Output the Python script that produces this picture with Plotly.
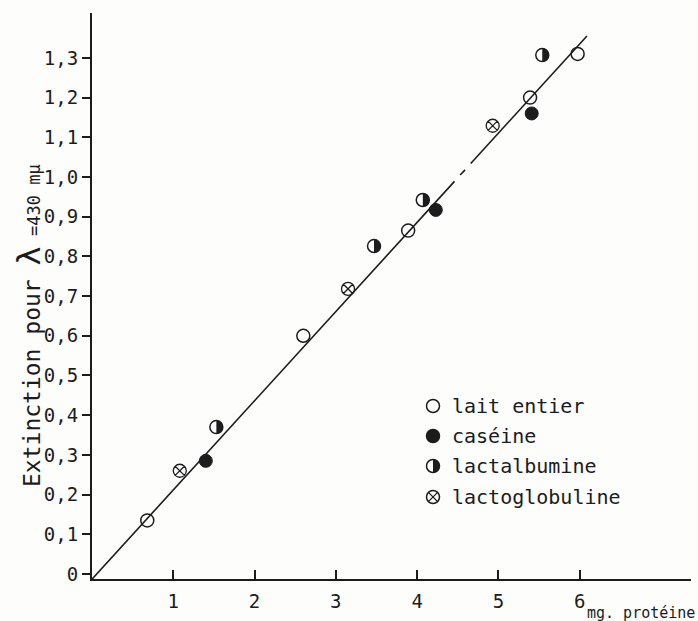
import plotly.graph_objects as go

# ---------------- data ----------------
lait_x = [0.68, 2.60, 3.89, 5.39, 5.975]
lait_y = [0.135, 0.60, 0.865, 1.20, 1.31]

caseine_x = [1.40, 4.23, 5.41]
caseine_y = [0.285, 0.917, 1.16]

lactalb_x = [1.53, 3.47, 4.07, 5.54]
lactalb_y = [0.37, 0.826, 0.942, 1.307]

lactoglob_x = [1.08, 3.15, 4.93]
lactoglob_y = [0.26, 0.718, 1.129]

# drawn straight line (with the small breaks visible on the original)
fit_x = [0.0, 4.46, None, 4.53, 4.59, None, 4.66, 6.09]
fit_y = [-0.013, 0.989, None, 1.005, 1.018, None, 1.034, 1.355]

x_tickvals = [1, 2, 3, 4, 5, 6]
x_ticktext = ["1", "2", "3", "4", "5", "6"]
y_tickvals = [0, 0.1, 0.2, 0.3, 0.4, 0.5, 0.6, 0.7, 0.8, 0.9, 1.0, 1.1, 1.2, 1.3]
y_ticktext = ["0", "0,1", "0,2", "0,3", "0,4", "0,5", "0,6", "0,7", "0,8", "0,9",
              "1,0", "1,1", "1,2", "1,3"]

legend_labels = ["lait entier", "caséine", "lactalbumine", "lactoglobuline"]

# ---------------- styling ----------------
INK = "#1c1c1c"
BG = "#fdfdfc"
FONT = "DejaVu Sans Mono, Liberation Mono, monospace"
W, H = 698, 621
ML, MR, MT, MB = 92, 7, 13, 42
PW, PH = W - ML - MR, H - MT - MB
R = 6.5  # marker radius in px


def px_x(p):
    return (p - ML) / PW


def px_y(p):
    return (H - MB - p) / PH


k = 0.5523 * R
half_path = (f"M 0,{R} C {k:.3f},{R} {R},{k:.3f} {R},0 "
             f"C {R},{-k:.3f} {k:.3f},{-R} 0,{-R} Z")
a = R * 0.7071
x_path = f"M {-a:.3f},{-a:.3f} L {a:.3f},{a:.3f} M {-a:.3f},{a:.3f} L {a:.3f},{-a:.3f}"

fig = go.Figure()

fig.add_trace(go.Scatter(x=fit_x, y=fit_y, mode="lines",
                         line=dict(color=INK, width=1.6), showlegend=False,
                         hoverinfo="skip", connectgaps=False))

fig.add_trace(go.Scatter(x=lait_x, y=lait_y, mode="markers", name=legend_labels[0],
                         marker=dict(symbol="circle-open", size=2 * R,
                                     color=INK, line=dict(width=1.5, color=INK)),
                         showlegend=False))
fig.add_trace(go.Scatter(x=caseine_x, y=caseine_y, mode="markers", name=legend_labels[1],
                         marker=dict(symbol="circle", size=2 * R,
                                     color=INK, line=dict(width=1, color=INK)),
                         showlegend=False))
fig.add_trace(go.Scatter(x=lactalb_x, y=lactalb_y, mode="markers", name=legend_labels[2],
                         marker=dict(symbol="circle", size=2 * R,
                                     color="white", line=dict(width=1.5, color=INK)),
                         showlegend=False))
fig.add_trace(go.Scatter(x=lactoglob_x, y=lactoglob_y, mode="markers", name=legend_labels[3],
                         marker=dict(symbol="circle-x-open", size=2 * R,
                                     color=INK, line=dict(width=1.3, color=INK)),
                         showlegend=False))

shapes = []
# right half filled for lactalbumine points
for xv, yv in zip(lactalb_x, lactalb_y):
    shapes.append(dict(type="path", xref="x", yref="y", xsizemode="pixel",
                       ysizemode="pixel", xanchor=xv, yanchor=yv, path=half_path,
                       fillcolor=INK, line=dict(width=0), layer="above"))

# ---------------- manual legend ----------------
leg_x_px = 433
leg_text_px = 450
leg_rows_px = [406, 436, 466, 497]
annotations = []
for i, (lab, rp) in enumerate(zip(legend_labels, leg_rows_px)):
    ax, ay = px_x(leg_x_px), px_y(rp)
    base = dict(xref="paper", yref="paper", xsizemode="pixel", ysizemode="pixel",
                xanchor=ax, yanchor=ay, layer="above")
    fill = INK if i == 1 else "rgba(0,0,0,0)"
    shapes.append(dict(type="circle", x0=-R, x1=R, y0=-R, y1=R,
                       fillcolor=fill, line=dict(color=INK, width=1.5), **base))
    if i == 2:
        shapes.append(dict(type="path", path=half_path, fillcolor=INK,
                           line=dict(width=0), **base))
    if i == 3:
        shapes.append(dict(type="path", path=x_path,
                           line=dict(color=INK, width=1.3), **base))
    annotations.append(dict(xref="paper", yref="paper", x=px_x(leg_text_px), y=ay,
                            xanchor="left", yanchor="middle", showarrow=False,
                            text=lab, font=dict(family=FONT, size=20, color=INK)))

# axis titles
annotations.append(dict(
    xref="paper", yref="paper", x=px_x(29), y=px_y(326), xanchor="center",
    yanchor="middle", textangle=-90, showarrow=False,
    text=("Extinction pour <span style='font-size:32px'>λ</span>"
          "<span style='font-size:17px'> =430 mμ</span>"),
    font=dict(family=FONT, size=23, color=INK)))
annotations.append(dict(
    xref="paper", yref="paper", x=px_x(697), y=px_y(613), xanchor="right",
    yanchor="middle", showarrow=False, text="mg. protéine",
    font=dict(family=FONT, size=15, color=INK)))

fig.update_layout(
    width=W, height=H,
    margin=dict(l=ML, r=MR, t=MT, b=MB, autoexpand=False),
    paper_bgcolor=BG, plot_bgcolor=BG,
    shapes=shapes, annotations=annotations,
    showlegend=False,
    xaxis=dict(range=[0, 7.37], showgrid=False, zeroline=False, automargin=False,
               showline=True, linecolor=INK, linewidth=2,
               tickmode="array", tickvals=x_tickvals, ticktext=x_ticktext,
               ticks="inside", ticklen=9, tickwidth=1.5, tickcolor=INK,
               ticklabelstandoff=4,
               tickfont=dict(family=FONT, size=19, color=INK)),
    yaxis=dict(range=[-0.0126, 1.413], showgrid=False, zeroline=False, automargin=False,
               showline=True, linecolor=INK, linewidth=2,
               tickmode="array", tickvals=y_tickvals, ticktext=y_ticktext,
               ticks="outside", ticklen=8, tickwidth=1.5, tickcolor=INK,
               tickfont=dict(family=FONT, size=19, color=INK)),
)

fig.write_html("out.html", config={"displayModeBar": False},
               post_script="document.body.style.margin='0';document.body.style.padding='0';")
